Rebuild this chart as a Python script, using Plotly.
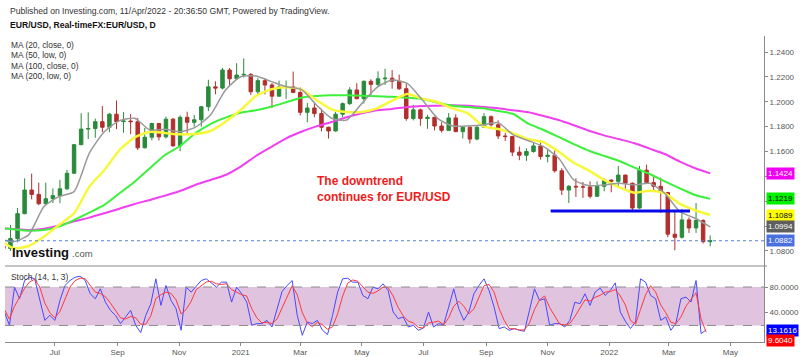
import pandas as pd
import plotly.graph_objects as go

# ---------------- data ----------------
# weekly candles (week starting Monday 2020-05-11 ... 2022-04-11)
week_start = "2020-05-11"
opens = [1.0840,1.0820,1.0900,1.1100,1.1290,1.1255,1.1180,1.1220,1.1245,1.1300,
         1.1425,1.1655,1.1780,1.1785,1.1840,1.1795,1.1900,1.1840,1.1845,1.1840,
         1.1630,1.1715,1.1825,1.1718,1.1860,1.1645,1.1875,1.1835,1.1855,1.1960,
         1.2120,1.2110,1.2255,1.2185,1.2215,1.2220,1.2080,1.2170,1.2135,1.2045,
         1.2120,1.2120,1.2075,1.1915,1.1950,1.1905,1.1795,1.1765,1.1900,1.1985,
         1.2095,1.2025,1.2165,1.2140,1.2185,1.2190,1.2165,1.2105,1.1865,1.1935,
         1.1865,1.1875,1.1805,1.1770,1.1870,1.1760,1.1795,1.1700,1.1795,1.1880,
         1.1815,1.1725,1.1720,1.1595,1.1570,1.1600,1.1645,1.1560,1.1570,1.1445,
         1.1290,1.1320,1.1315,1.1315,1.1240,1.1320,1.1370,1.1360,1.1410,1.1345,
         1.1145,1.1450,1.1350,1.1320,1.1270,1.0935,1.0910,1.1050,1.0985,1.1045,
         1.0875]
highs = [1.0875,1.1009,1.1145,1.1384,1.1422,1.1350,1.1349,1.1303,1.1372,1.1452,
         1.1660,1.1908,1.1915,1.1865,1.1965,1.1910,1.2011,1.1917,1.1900,1.1870,
         1.1790,1.1832,1.1830,1.1880,1.1870,1.1890,1.1920,1.1894,1.1965,1.2177,
         1.2165,1.2273,1.2272,1.2310,1.2349,1.2230,1.2190,1.2190,1.2150,1.2170,
         1.2170,1.2243,1.2115,1.1990,1.1990,1.1945,1.1800,1.1920,1.1995,1.2117,
         1.2150,1.2170,1.2181,1.2245,1.2266,1.2255,1.2218,1.2145,1.1975,1.1945,
         1.1895,1.1880,1.1835,1.1909,1.1900,1.1805,1.1805,1.1810,1.1909,1.1890,
         1.1850,1.1750,1.1725,1.1640,1.1625,1.1670,1.1692,1.1615,1.1608,1.1465,
         1.1330,1.1385,1.1355,1.1360,1.1360,1.1385,1.1375,1.1482,1.1415,1.1350,
         1.1483,1.1495,1.1395,1.1390,1.1275,1.1120,1.1137,1.1070,1.1185,1.1055,
         1.0925]
lows = [1.0775,1.0800,1.0870,1.1095,1.1215,1.1168,1.1170,1.1185,1.1185,1.1290,
        1.1420,1.1650,1.1700,1.1710,1.1755,1.1755,1.1780,1.1750,1.1740,1.1612,
        1.1625,1.1690,1.1689,1.1705,1.1640,1.1603,1.1745,1.1800,1.1800,1.1925,
        1.2060,1.2100,1.2130,1.2180,1.2195,1.2055,1.2055,1.2060,1.1950,1.2040,
        1.2023,1.2070,1.1890,1.1835,1.1875,1.1762,1.1704,1.1760,1.1875,1.1975,
        1.2020,1.1985,1.2050,1.2120,1.2135,1.2105,1.2095,1.1847,1.1850,1.1807,
        1.1782,1.1770,1.1752,1.1765,1.1755,1.1705,1.1664,1.1690,1.1790,1.1800,
        1.1700,1.1685,1.1563,1.1530,1.1524,1.1590,1.1535,1.1513,1.1430,1.1250,
        1.1186,1.1235,1.1227,1.1222,1.1235,1.1280,1.1272,1.1315,1.1290,1.1121,
        1.1140,1.1345,1.1280,1.1106,1.0910,1.0806,1.0900,1.0945,1.0945,1.0860,
        1.0837]
closes = [1.0820,1.0900,1.1100,1.1290,1.1255,1.1180,1.1220,1.1245,1.1300,1.1425,
          1.1655,1.1780,1.1785,1.1840,1.1795,1.1900,1.1840,1.1845,1.1840,1.1630,
          1.1715,1.1825,1.1718,1.1860,1.1645,1.1875,1.1835,1.1855,1.1960,1.2120,
          1.2110,1.2255,1.2185,1.2215,1.2220,1.2080,1.2170,1.2135,1.2045,1.2120,
          1.2120,1.2075,1.1915,1.1950,1.1905,1.1795,1.1765,1.1900,1.1985,1.2095,
          1.2025,1.2165,1.2140,1.2185,1.2190,1.2165,1.2105,1.1865,1.1935,1.1865,
          1.1875,1.1805,1.1770,1.1870,1.1760,1.1795,1.1700,1.1795,1.1880,1.1815,
          1.1725,1.1720,1.1595,1.1570,1.1600,1.1645,1.1560,1.1570,1.1445,1.1290,
          1.1320,1.1315,1.1315,1.1240,1.1320,1.1370,1.1360,1.1410,1.1345,1.1145,
          1.1450,1.1350,1.1320,1.1270,1.0935,1.0910,1.1050,1.0985,1.1045,1.0875,
          1.0882]

# moving averages, every 15 days ending 2022-04-11
ma_start = "2020-05-06"
ma20 = [1.0902,1.0875,1.0929,1.1156,1.1237,1.1277,1.1585,1.1759,1.1848,1.1867,
        1.1773,1.1778,1.1759,1.1794,1.1893,1.2094,1.2201,1.2207,1.2164,1.2121,
        1.2100,1.1974,1.1867,1.1853,1.1987,1.2116,1.2175,1.2148,1.2014,1.1867,
        1.1805,1.1805,1.1813,1.1832,1.1733,1.1687,1.1639,1.1545,1.1371,1.1325,
        1.1331,1.1344,1.1331,1.1344,1.1264,1.1116,1.1063,1.0994]
ma50 = [1.0902,1.0822,1.0840,1.0915,1.1009,1.1103,1.1317,1.1451,1.1612,1.1714,
        1.1759,1.1749,1.1738,1.1741,1.1765,1.1840,1.1934,1.2046,1.2100,1.2116,
        1.2100,1.2014,1.1939,1.1918,1.1918,1.1947,1.2009,1.2062,1.2025,1.1996,
        1.1947,1.1907,1.1805,1.1781,1.1746,1.1698,1.1676,1.1598,1.1510,1.1446,
        1.1371,1.1312,1.1269,1.1285,1.1264,1.1178,1.1127,1.1089]
ma100 = [1.0985,1.0974,1.0963,1.0969,1.0996,1.1049,1.1108,1.1170,1.1264,1.1357,
         1.1465,1.1572,1.1644,1.1746,1.1821,1.1872,1.1912,1.1931,1.1960,1.1996,
         1.2033,1.2046,1.2052,1.2052,1.2049,1.2044,1.2041,1.2033,1.2022,1.1992,
         1.1968,1.1958,1.1947,1.1926,1.1902,1.1824,1.1773,1.1717,1.1660,1.1606,
         1.1564,1.1524,1.1470,1.1419,1.1360,1.1304,1.1250,1.1219]
ma200 = [1.0985,1.0977,1.0969,1.0979,1.1004,1.1039,1.1068,1.1103,1.1140,1.1178,
         1.1210,1.1245,1.1282,1.1331,1.1371,1.1411,1.1478,1.1564,1.1636,1.1706,
         1.1759,1.1802,1.1837,1.1875,1.1907,1.1931,1.1942,1.1958,1.1966,1.1968,
         1.1971,1.1968,1.1958,1.1947,1.1931,1.1915,1.1885,1.1853,1.1811,1.1767,
         1.1730,1.1698,1.1666,1.1623,1.1580,1.1518,1.1465,1.1424]

# stochastic (14,1,3), read every 5 days
stoch_start = "2020-05-12"
stoch_k = [41.0,20.3,79.8,61.7,90.2,95.3,92.8,61.7,28.0,35.8,
           28.0,59.1,82.4,90.2,95.3,96.9,90.2,69.5,61.7,77.2,
           56.5,43.6,35.8,22.9,33.2,43.6,20.3,8.9,35.8,53.9,
           92.8,51.3,82.4,59.1,46.2,12.5,79.8,72.0,81.4,90.2,
           92.8,86.5,79.8,87.6,87.6,56.5,79.8,69.5,56.5,20.3,
           22.9,22.9,28.0,17.7,46.2,73.1,82.4,90.2,35.8,4.7,
           25.4,22.9,28.0,12.5,5.8,35.8,72.0,92.8,93.8,87.6,
           87.6,66.9,61.7,79.8,77.2,85.0,74.6,41.0,30.6,33.2,
           17.7,20.3,12.5,16.1,41.0,17.7,22.9,21.3,48.7,77.2,
           46.2,28.0,41.0,69.5,82.4,92.8,74.6,48.7,15.1,17.7,
           12.5,15.1,12.5,11.0,43.6,77.2,59.1,61.7,20.3,22.9,
           22.9,17.7,28.0,56.5,53.9,69.5,51.3,72.0,78.3,66.9,
           74.6,86.5,41.0,26.5,15.1,25.4,92.8,87.6,66.9,61.7,
           28.0,33.2,12.5,22.9,61.7,64.3,56.5,90.2,7.3,13.2]
stoch_d = [45,30,50,65,78,88,92,80,55,40,
           32,42,60,80,90,94,93,83,72,70,
           65,55,44,32,30,34,32,22,22,35,
           62,68,72,70,60,38,45,58,76,82,
           88,89,85,84,85,76,72,68,66,46,
           32,24,25,23,30,48,66,82,68,40,
           24,18,25,21,14,18,38,66,86,91,
           89,80,72,70,74,80,79,66,48,35,
           27,24,17,16,24,25,27,21,32,50,
           58,50,38,46,65,82,84,72,46,28,
           15,15,13,13,24,45,60,66,48,35,
           22,21,23,34,46,60,58,64,67,72,
           73,76,66,52,28,22,45,68,82,72,
           52,40,25,23,33,50,61,71,30,9.604]

month_ticks = ["2020-07-01","2020-09-01","2020-11-01","2021-01-01","2021-03-01",
               "2021-05-01","2021-07-01","2021-09-01","2021-11-01","2022-01-01",
               "2022-03-01","2022-05-01"]
month_labels = ["Jul","Sep","Nov","2021","Mar","May","Jul","Sep","Nov","2022","Mar","May"]
price_ticks = [1.08,1.10,1.12,1.14,1.16,1.18,1.20,1.22,1.24]
price_labels = ["1.0800","","","","1.1600","1.1800","1.2000","1.2200","1.2400"]

support_level = 1.1121
support_from, support_to = "2021-11-04", "2022-03-22"
last_price = 1.0882
last_ma = {"ma200": 1.1424, "ma100": 1.1219, "ma50": 1.1089, "ma20": 1.0994}
last_k, last_d = 13.1616, 9.6040

# ---------------- figure ----------------
W, H = 800, 357
FONT = "Liberation Sans, Arial, sans-serif"
px = lambda v: v / W
py = lambda v: 1 - v / H

wk_dates = pd.date_range(week_start, periods=len(closes), freq="7D")
ma_dates = pd.date_range(ma_start, periods=len(ma20), freq="15D")
st_dates = pd.date_range(stoch_start, periods=len(stoch_k), freq="5D")

fig = go.Figure()
fig.add_trace(go.Candlestick(
    x=wk_dates, open=opens, high=highs, low=lows, close=closes,
    increasing=dict(line=dict(color="#2a8a3c", width=1), fillcolor="#2a8a3c"),
    decreasing=dict(line=dict(color="#b22f2c", width=1), fillcolor="#b22f2c"),
    whiskerwidth=0, xaxis="x", yaxis="y", showlegend=False, hoverinfo="skip"))

for vals, col, w in [(ma200, "#f040f0", 2), (ma100, "#3cf03c", 2),
                     (ma50, "#f8f83a", 2.5), (ma20, "#9a9a9a", 1.5)]:
    fig.add_trace(go.Scatter(x=ma_dates, y=vals, mode="lines",
                             line=dict(color=col, width=w, shape="spline", smoothing=0.6),
                             xaxis="x", yaxis="y", showlegend=False, hoverinfo="skip"))

fig.add_trace(go.Scatter(x=st_dates, y=stoch_k, mode="lines",
                         line=dict(color="#4848ff", width=1),
                         xaxis="x2", yaxis="y2", showlegend=False, hoverinfo="skip"))
fig.add_trace(go.Scatter(x=st_dates, y=stoch_d, mode="lines",
                         line=dict(color="#ff3a3a", width=1),
                         xaxis="x2", yaxis="y2", showlegend=False, hoverinfo="skip"))

x_range = ["2020-05-12 14:00", "2022-06-03 07:00"]
xdom = [px(5), px(764)]
axis_col = "#8a8a8a"
tick_font = dict(family=FONT, size=8, color="#555")

fig.update_layout(
    width=W, height=H, margin=dict(l=0, r=0, t=0, b=0),
    paper_bgcolor="white", plot_bgcolor="white",
    xaxis=dict(domain=xdom, range=x_range, type="date", anchor="y",
               showticklabels=False, showgrid=False, zeroline=False,
               rangeslider=dict(visible=False), ticks=""),
    xaxis2=dict(domain=xdom, range=x_range, type="date", anchor="y2", matches="x",
                tickvals=month_ticks, ticktext=month_labels, ticks="outside",
                ticklen=3, tickcolor=axis_col, showline=True, linecolor=axis_col,
                showgrid=False, zeroline=False, tickfont=tick_font),
    yaxis=dict(domain=[py(266), py(36)], range=[1.0679, 1.2529], side="right",
               anchor="x", tickvals=price_ticks, ticktext=price_labels, ticks="outside",
               ticklen=3, tickcolor=axis_col, showline=True, linecolor=axis_col,
               showgrid=False, zeroline=False, tickfont=tick_font),
    yaxis2=dict(domain=[py(341.7), py(266)], range=[-5.3, 112.8], side="right",
                anchor="x2", tickvals=[40, 80], ticktext=["40.0000", "80.0000"],
                ticks="outside", ticklen=3, tickcolor=axis_col, showline=True,
                linecolor=axis_col, showgrid=False, zeroline=False, tickfont=tick_font),
)

shapes = [
    dict(type="rect", xref="x2 domain", yref="y2", x0=0, x1=1, y0=20, y1=80,
         fillcolor="#dfc3df", line=dict(width=0), layer="below"),
    dict(type="line", xref="x2 domain", yref="y2", x0=0, x1=1, y0=80, y1=80,
         line=dict(color="#8c8c8c", width=1, dash="dash")),
    dict(type="line", xref="x2 domain", yref="y2", x0=0, x1=1, y0=20, y1=20,
         line=dict(color="#8c8c8c", width=1, dash="dash")),
    dict(type="line", xref="paper", yref="paper", x0=px(5), x1=px(767),
         y0=py(266), y1=py(266), line=dict(color=axis_col, width=1)),
    dict(type="line", xref="x domain", yref="y", x0=0, x1=1, y0=last_price, y1=last_price,
         line=dict(color="#5a7ee0", width=1, dash="dot")),
    dict(type="line", xref="x", yref="y", x0=support_from, x1=support_to,
         y0=support_level, y1=support_level, line=dict(color="#0a0ae8", width=3)),
]
fig.update_layout(shapes=shapes)

ann = []
def text(x, y, s, size=8.5, color="#333", bold=False, **kw):
    ann.append(dict(xref="paper", yref="paper", x=px(x), y=py(y), text=(f"<b>{s}</b>" if bold else s),
                    showarrow=False, xanchor=kw.get("xanchor", "left"), yanchor="middle",
                    align="left", font=dict(family=FONT, size=size, color=color)))

text(8, 11, "Published on Investing.com, 11/Apr/2022 - 20:36:50 GMT, Powered by TradingView.", 8.6)
text(8, 25, "EUR/USD, Real-timeFX:EUR/USD, D", 8.6, "#111", bold=True)
for i, s in enumerate(["MA (20, close, 0)", "MA (50, low, 0)", "MA (100, close, 0)", "MA (200, low, 0)"]):
    text(9, 45 + i * 10.4, s, 8.4)
text(9, 277, "Stoch (14, 1, 3)", 8.4)
text(10, 252, "Investing", 13, "#111", bold=True)
text(70, 253, ".com", 9.5, "#555")

ann.append(dict(xref="paper", yref="paper", x=px(315), y=py(189),
                text="<b>The downtrend<br>continues for EUR/USD</b>", showarrow=False,
                xanchor="left", yanchor="middle", align="left",
                font=dict(family=FONT, size=12, color="#f01c1c")))

def tag(yref, val, s, bg, fg):
    ann.append(dict(xref="paper", yref=yref, x=px(766), y=val, text=s, showarrow=False,
                    xanchor="left", yanchor="middle", bgcolor=bg, borderpad=1,
                    font=dict(family=FONT, size=8, color=fg)))

tag("y", last_ma["ma200"], "1.1424", "#f000f0", "white")
tag("y", last_ma["ma100"], "1.1219", "#00f000", "black")
tag("y", last_ma["ma50"], "1.1089", "#ffff00", "black")
tag("y", last_ma["ma20"], "1.0994", "#5f5f5f", "white")
tag("y", last_price, "1.0882", "#4a70e0", "white")
tag("y2", 12.5, f"{last_k:.4f}", "#0000ff", "white")
tag("y2", -3.0, f"{last_d:.4f}", "#ff0000", "white")
fig.update_layout(annotations=ann)

fig.write_html("out.html", config={"displayModeBar": False},
               post_script="document.body.style.margin='0px';")
